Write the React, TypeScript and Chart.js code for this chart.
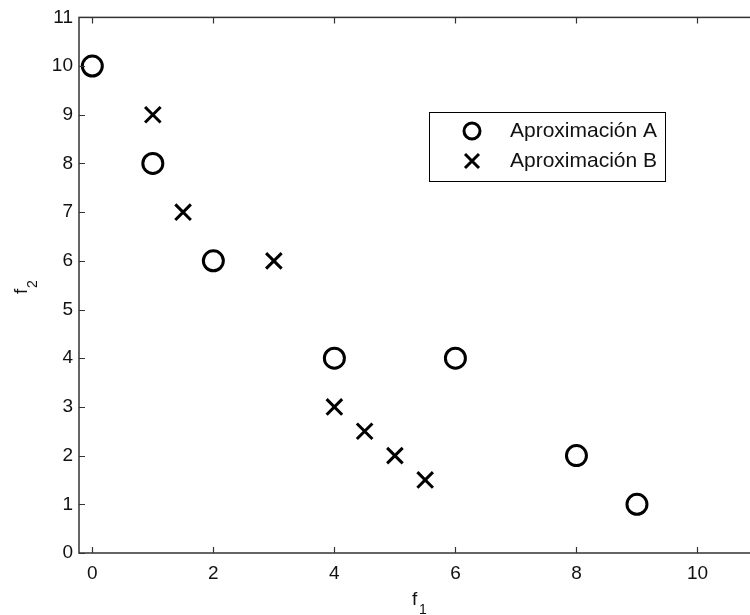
import React, { useEffect, useRef } from "react";
import { Chart, registerables } from "chart.js";

Chart.register(...registerables);

const seriesAX = [0, 1, 2, 4, 6, 8, 9];
const seriesAY = [10, 8, 6, 4, 4, 2, 1];
const seriesBX = [1, 1.5, 3, 4, 4.5, 5, 5.5];
const seriesBY = [9, 7, 6, 3, 2.5, 2, 1.5];
const xTicks = [0, 2, 4, 6, 8, 10];
const yTicks = [0, 1, 2, 3, 4, 5, 6, 7, 8, 9, 10, 11];
const legendLabels = ["Aproximación A", "Aproximación B"];
const xTitle = ["f", "1"];
const yTitle = ["f", "2"];

const FONT = "'Liberation Sans', Arial, sans-serif";

const framePlugin = {
  id: "frame",
  afterDatasetsDraw(chart: any) {
    const { ctx, chartArea: a, scales } = chart;
    ctx.save();
    ctx.strokeStyle = "#333";
    ctx.lineWidth = 1.5;
    ctx.strokeRect(a.left, a.top, a.right - a.left, a.bottom - a.top);
    ctx.lineWidth = 1.2;
    ctx.beginPath();
    xTicks.forEach((v) => {
      const x = Math.round(scales.x.getPixelForValue(v)) + 0.5;
      ctx.moveTo(x, a.bottom);
      ctx.lineTo(x, a.bottom - 6);
      ctx.moveTo(x, a.top);
      ctx.lineTo(x, a.top + 6);
    });
    yTicks.forEach((v) => {
      const y = Math.round(scales.y.getPixelForValue(v)) + 0.5;
      ctx.moveTo(a.left, y);
      ctx.lineTo(a.left + 6, y);
      ctx.moveTo(a.right, y);
      ctx.lineTo(a.right - 6, y);
    });
    ctx.stroke();

    // legend
    ctx.fillStyle = "#fff";
    ctx.fillRect(429, 112, 236, 69);
    ctx.strokeStyle = "#000";
    ctx.lineWidth = 1;
    ctx.strokeRect(429.5, 112.5, 236, 69);
    ctx.lineWidth = 3;
    ctx.beginPath();
    ctx.arc(472, 131, 8, 0, Math.PI * 2);
    ctx.stroke();
    ctx.beginPath();
    ctx.moveTo(465, 154);
    ctx.lineTo(479, 168);
    ctx.moveTo(479, 154);
    ctx.lineTo(465, 168);
    ctx.stroke();
    ctx.fillStyle = "#111";
    ctx.font = `21px ${FONT}`;
    ctx.textBaseline = "middle";
    ctx.textAlign = "left";
    ctx.fillText(legendLabels[0], 510, 131);
    ctx.fillText(legendLabels[1], 510, 161);

    // axis titles
    ctx.textBaseline = "alphabetic";
    ctx.font = `19px ${FONT}`;
    ctx.fillText(xTitle[0], 412, 605);
    ctx.font = `14px ${FONT}`;
    ctx.fillText(xTitle[1], 419, 614);

    ctx.translate(27, 294);
    ctx.rotate(-Math.PI / 2);
    ctx.font = `19px ${FONT}`;
    ctx.fillText(yTitle[0], 0, 0);
    ctx.font = `14px ${FONT}`;
    ctx.fillText(yTitle[1], 6, 10);
    ctx.restore();
  },
};

export default function App() {
  const ref = useRef<HTMLCanvasElement>(null);
  useEffect(() => {
    if (!ref.current) return;
    const chart = new Chart(ref.current, {
      type: "scatter",
      data: {
        datasets: [
          {
            label: legendLabels[0],
            data: seriesAX.map((x, i) => ({ x, y: seriesAY[i] })),
            pointStyle: "circle",
            pointRadius: 10,
            pointBorderWidth: 3,
            borderColor: "#000",
            backgroundColor: "rgba(0,0,0,0)",
          },
          {
            label: legendLabels[1],
            data: seriesBX.map((x, i) => ({ x, y: seriesBY[i] })),
            pointStyle: "crossRot",
            pointRadius: 11,
            pointBorderWidth: 3,
            borderColor: "#000",
            backgroundColor: "#000",
          },
        ],
      },
      options: {
        responsive: false,
        animation: false,
        layout: { padding: { top: 16, right: 22, left: 0, bottom: 0 } },
        plugins: { legend: { display: false }, tooltip: { enabled: false } },
        scales: {
          x: {
            type: "linear",
            min: -0.22,
            max: 11,
            grid: { display: false, drawTicks: false },
            border: { display: false },
            afterBuildTicks: (s: any) => {
              s.ticks = xTicks.map((v) => ({ value: v }));
            },
            afterFit: (s: any) => {
              s.height = 62;
            },
            ticks: {
              padding: 9,
              color: "#111",
              font: { family: FONT, size: 19 },
              maxRotation: 0,
            },
          },
          y: {
            type: "linear",
            min: 0,
            max: 11,
            grid: { display: false, drawTicks: false },
            border: { display: false },
            afterBuildTicks: (s: any) => {
              s.ticks = yTicks.map((v) => ({ value: v }));
            },
            afterFit: (s: any) => {
              s.width = 79;
            },
            ticks: {
              padding: 6,
              color: "#111",
              font: { family: FONT, size: 19 },
            },
          },
        },
      },
      plugins: [framePlugin],
    });
    return () => chart.destroy();
  }, []);
  return (
    <div style={{ position: "fixed", left: 0, top: 0, width: 750, height: 615, overflow: "hidden", background: "#fff" }}>
      <canvas ref={ref} width={780} height={615} style={{ width: 780, height: 615, display: "block" }} />
    </div>
  );
}
